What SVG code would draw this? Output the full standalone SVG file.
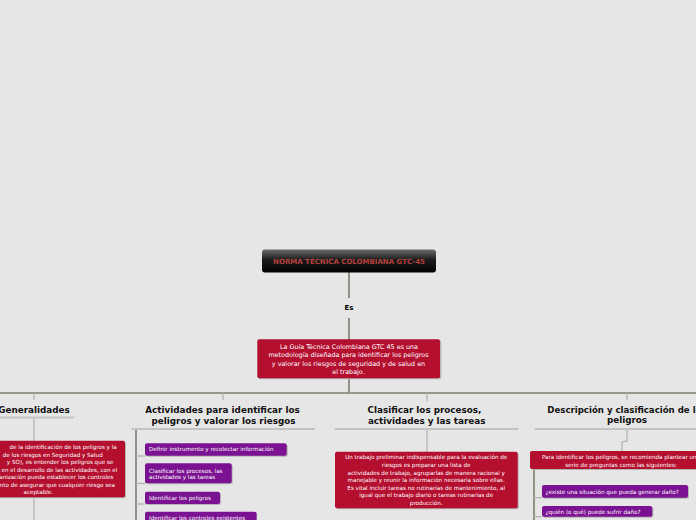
<svg xmlns="http://www.w3.org/2000/svg" width="696" height="520" viewBox="0 0 696 520">
<defs>
<linearGradient id="gTop" x1="0" y1="0" x2="0" y2="1">
<stop offset="0" stop-color="#6a6a6a"/>
<stop offset="0.45" stop-color="#1c1c1c"/>
<stop offset="1" stop-color="#000"/>
</linearGradient>
<style>
text{font-family:"DejaVu Sans","Verdana",sans-serif}
.body{font-size:5.6px;fill:#fff}
.mid{font-size:6.4px;fill:#fff}
.title{font-size:8.8px;font-weight:bold;fill:#111;text-anchor:middle}
.red{fill:#b50f2f}
.pur{fill:#7b1291}
.shadow{fill:#b4b4b4}
.main{stroke:#7e7e70;stroke-width:1.6;fill:none}
.thin{stroke:#b4b4b4;stroke-width:1.3;fill:none}
.ul{stroke:#c3c3c3;stroke-width:2;fill:none}
</style>
</defs>
<rect width="696" height="520" fill="#e6e6e6"/>

<g id="connectors">
<line class="main" x1="349" y1="272" x2="349" y2="298"/>
<line class="main" x1="349" y1="318" x2="349" y2="340"/>
<line class="main" x1="349" y1="378" x2="349" y2="393"/>
<line class="main" x1="0" y1="393" x2="696" y2="393"/>
<line class="thin" x1="34" y1="393" x2="34" y2="400"/>
<line class="thin" x1="223" y1="393" x2="223" y2="400"/>
<line class="thin" x1="427" y1="393" x2="427" y2="401"/>
<line class="thin" x1="627" y1="393" x2="627" y2="400"/>
<line class="thin" x1="34" y1="418" x2="34" y2="441"/>
<line class="thin" x1="34" y1="497" x2="34" y2="520"/>
<line class="thin" x1="427" y1="429" x2="427" y2="452"/>
<polyline class="thin" points="627,429 627,441 622,442 622,451"/>
<line class="main" x1="136" y1="429" x2="136" y2="520"/>
<line class="thin" x1="136" y1="456" x2="145" y2="456"/>
<line class="thin" x1="136" y1="483.5" x2="145" y2="483.5"/>
<line class="thin" x1="136" y1="504" x2="145" y2="504"/>
<line class="main" x1="534" y1="470" x2="534" y2="520"/>
<line class="thin" x1="534" y1="497.7" x2="542" y2="497.7"/>
<line class="thin" x1="534" y1="516.7" x2="542" y2="516.7"/>
</g>

<g id="node-root">
<rect x="262" y="249.5" width="174" height="23" rx="3" fill="url(#gTop)"/>
<text x="349" y="264.2" text-anchor="middle" font-size="7" font-weight="bold" fill="#b3403c">NORMA TÉCNICA COLOMBIANA GTC-45</text>
</g>

<g id="label-es">
<text x="349" y="310" text-anchor="middle" font-size="7" font-weight="bold" fill="#000">Es</text>
</g>

<g id="node-def">
<rect class="shadow" x="258.3" y="340.3" width="183" height="39" rx="2"/>
<rect class="red" x="257.3" y="339.3" width="182.7" height="39" rx="2"/>
<text class="mid" text-anchor="middle" x="349" y="349.1">La Guía Técnica Colombiana GTC 45 es una</text>
<text class="mid" text-anchor="middle" x="348.5" y="357.4">metodología diseñada para identificar los peligros</text>
<text class="mid" text-anchor="middle" x="348.5" y="365.7">y valorar los riesgos de seguridad y de salud en</text>
<text class="mid" text-anchor="middle" x="348.5" y="374">el trabajo.</text>
</g>

<g id="node-generalidades">
<text class="title" x="34" y="413">Generalidades</text>
<line class="ul" x1="-8" y1="417.5" x2="74" y2="417.5"/>
</g>

<g id="node-gen-text">
<rect class="shadow" x="-49" y="441.7" width="175" height="56.6" rx="2"/>
<rect class="red" x="-50" y="440.7" width="175" height="56.6" rx="2"/>
<g class="body" text-anchor="end">
<text x="116.7" y="449.3">de la identificación de los peligros y la</text>
<text x="102.7" y="456.8">de los riesgos en Seguridad y Salud</text>
<text x="113.3" y="464.3">y SO), es entender los peligros que se</text>
<text x="117.3" y="471.8">en el desarrollo de las actividades, con el</text>
<text x="113.3" y="479.3">organización pueda establecer los controles</text>
<text x="115" y="486.8">punto de asegurar que cualquier riesgo sea</text>
</g>
<text class="body" text-anchor="middle" x="38.3" y="494.3">aceptable.</text>
</g>

<g id="node-actividades">
<text class="title" x="222.5" y="413.4">Actividades para identificar los</text>
<text class="title" x="223.5" y="423.8">peligros y valorar los riesgos</text>
<line class="ul" x1="131.7" y1="429" x2="315" y2="429"/>
</g>

<g id="node-act-1">
<rect class="shadow" x="146" y="444.3" width="141.7" height="12.4" rx="2"/>
<rect class="pur" x="145" y="443.3" width="141.7" height="12.4" rx="2"/>
<text class="body" x="149" y="450.8">Definir instrumento y recolectar información</text>
</g>
<g id="node-act-2">
<rect class="shadow" x="146" y="464.3" width="86.7" height="20" rx="2"/>
<rect class="pur" x="145" y="463.3" width="86.7" height="20" rx="2"/>
<text class="body" x="149" y="472.7">Clasificar los procesos, las</text>
<text class="body" x="149" y="479.4">actividades y las tareas</text>
</g>
<g id="node-act-3">
<rect class="shadow" x="146" y="492.7" width="75" height="12.3" rx="2"/>
<rect class="pur" x="145" y="491.7" width="75" height="12.3" rx="2"/>
<text class="body" x="149" y="500">Identificar los peligros</text>
</g>
<g id="node-act-4">
<rect class="pur" x="145" y="511.7" width="111.7" height="12.3" rx="2"/>
<text class="body" x="149" y="519.7">Identificar los controles existentes</text>
</g>

<g id="node-clasificar">
<text class="title" x="424.5" y="413">Clasificar los procesos,</text>
<text class="title" x="426.7" y="423.7">actividades y las tareas</text>
<line class="ul" x1="335" y1="429" x2="518.3" y2="429"/>
</g>

<g id="node-clas-text">
<rect class="shadow" x="336" y="452.7" width="182.7" height="56.6" rx="2"/>
<rect class="red" x="335" y="451.7" width="182.7" height="56.6" rx="2"/>
<g class="body" text-anchor="middle">
<text x="426.2" y="459.3">Un trabajo preliminar indispensable para la evaluación de</text>
<text x="426.2" y="466.9">riesgos es preparar una lista de</text>
<text x="426.2" y="474.5">actividades de trabajo, agruparlas de manera racional y</text>
<text x="426.2" y="482.1">manejable y reunir la información necesaria sobre ellas.</text>
<text x="426.2" y="489.7">Es vital incluir tareas no rutinarias de mantenimiento, al</text>
<text x="426.2" y="497.3">igual que el trabajo diario o tareas rutinarias de</text>
<text x="426.2" y="504.9">producción.</text>
</g>
</g>

<g id="node-descripcion">
<text class="title" x="627" y="413" font-size="8.6" style="font-size:8.6px">Descripción y clasificación de los</text>
<text class="title" x="627" y="423.4">peligros</text>
<line class="ul" x1="535" y1="429" x2="700" y2="429"/>
</g>

<g id="node-desc-text">
<rect class="shadow" x="531" y="452" width="184" height="18" rx="2"/>
<rect class="red" x="530" y="451" width="184" height="18" rx="2"/>
<text class="body" text-anchor="middle" x="621" y="458.7">Para identificar los peligros, se recomienda plantear una</text>
<text class="body" text-anchor="middle" x="621" y="467.3">serie de preguntas como las siguientes:</text>
</g>

<g id="node-desc-1">
<rect class="shadow" x="543" y="486" width="146" height="12.7" rx="2"/>
<rect class="pur" x="542" y="485" width="146" height="12.7" rx="2"/>
<text class="body" x="545.5" y="493.7">¿existe una situación que pueda generar daño?</text>
</g>
<g id="node-desc-2">
<rect class="shadow" x="543" y="507" width="110.3" height="10.7" rx="2"/>
<rect class="pur" x="542" y="506" width="110.3" height="10.7" rx="2"/>
<text class="body" x="545.5" y="514.3">¿quién (o qué) puede sufrir daño?</text>
</g>
</svg>
